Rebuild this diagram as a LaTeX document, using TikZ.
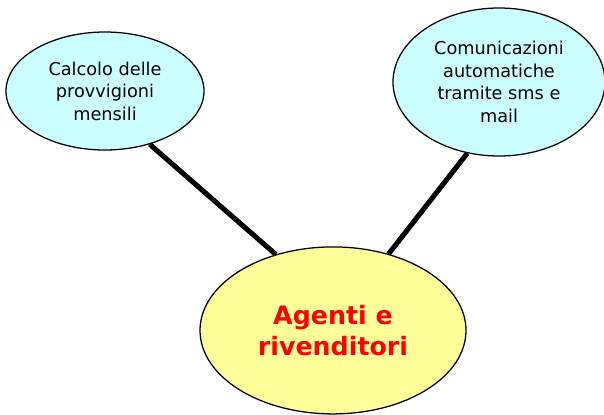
\documentclass[tikz,border=0pt]{standalone}
\usepackage{fontspec}
\setmainfont{DejaVu Sans}
\usetikzlibrary{positioning, shapes.geometric}
\definecolor{paleCyan}{RGB}{204,255,255}
\definecolor{paleYellow}{RGB}{255,255,153}
\tikzset{
    topic/.style={draw, line width=0.9pt, ellipse, fill=paleCyan, inner sep=0pt, align=center,
        font=\fontsize{12.6}{16}\selectfont},
    hub/.style={draw, line width=0.9pt, ellipse, fill=paleYellow, inner sep=0pt, align=center,
        text=red, font=\fontsize{18}{22.5}\selectfont\bfseries},
    spoke/.style={line width=3.6pt}
}

\begin{document}
\begin{tikzpicture}
  \useasboundingbox (0,0) rectangle (15.1,-10.35);
  \node(calc)[topic, minimum width=4.95cm, minimum height=2.95cm] at (2.625,-2.275)
    {Calcolo delle\\provvigioni\\mensili};
  \node(comm)[topic, minimum width=5.3cm, minimum height=3.7cm] at (12.475,-2.05)
    {Comunicazioni\\automatiche\\tramite sms e\\mail};
  \node(agents)[hub, minimum width=6.65cm, minimum height=4.175cm] at (8.325,-8.26)
    {Agenti e\\rivenditori};

  \draw[spoke](calc.-50)--(agents.127.5);
  \draw[spoke](comm.-114)--(agents.54.3);

\end{tikzpicture}
\end{document}
